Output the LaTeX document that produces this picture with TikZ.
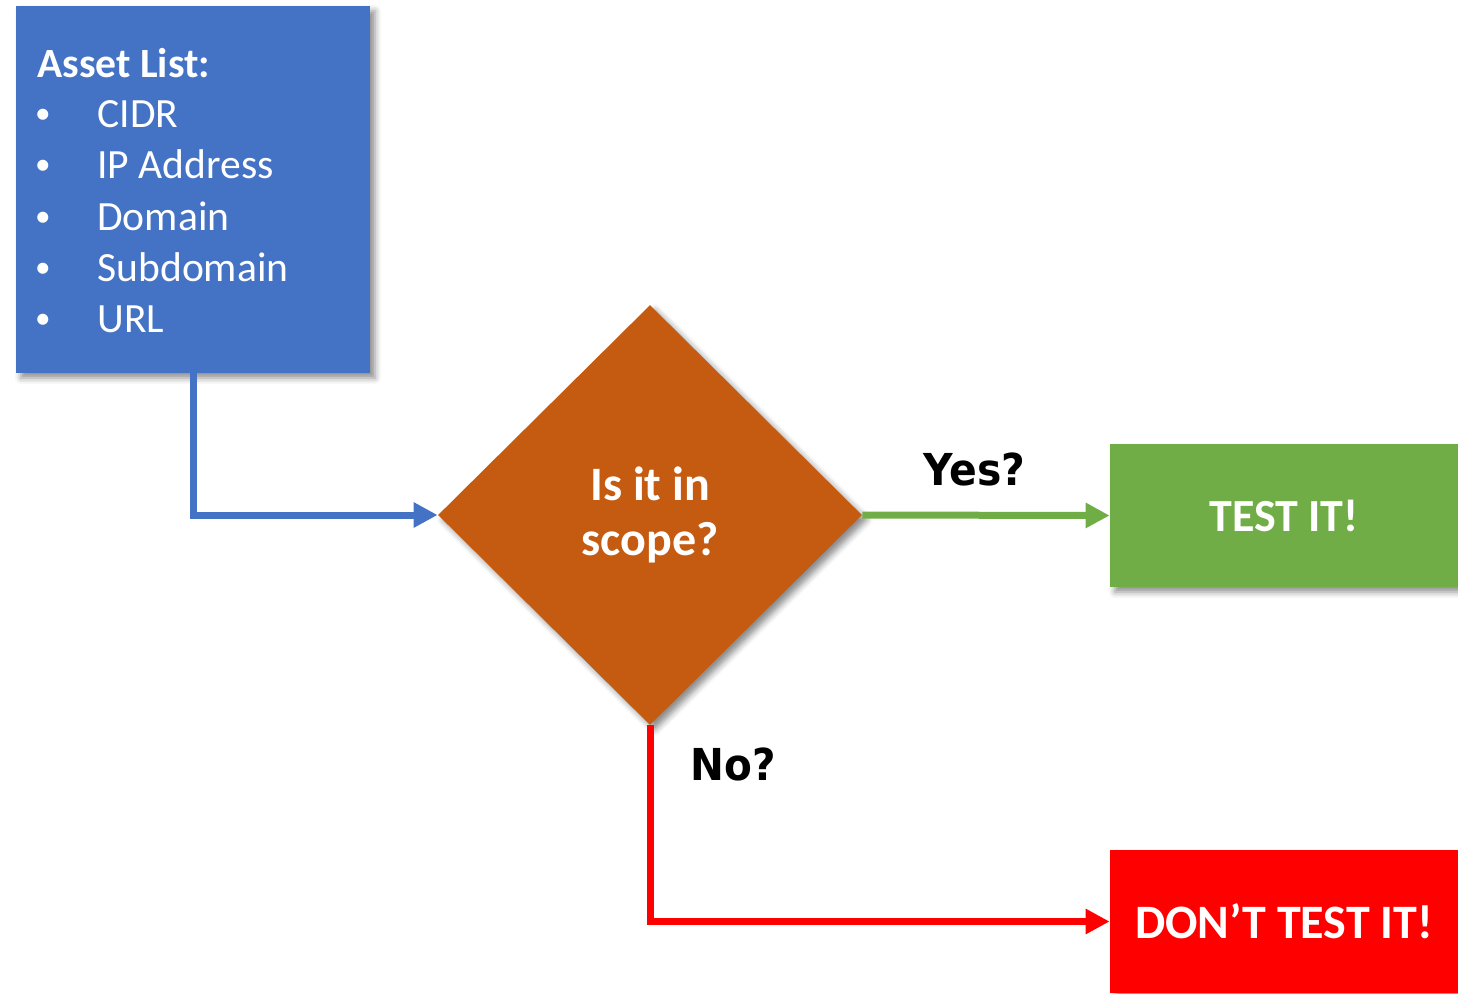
\documentclass[tikz,border=0pt]{standalone}
\usepackage{fontspec}
\setmainfont{Carlito}
\newfontfamily\labelfont{DejaVu Sans}
\usetikzlibrary{shapes.geometric,arrows.meta,shadows.blur}
\definecolor{boxblue}{HTML}{4472C4}
\definecolor{boxorange}{HTML}{C55A11}
\definecolor{boxgreen}{HTML}{70AD47}
\definecolor{boxred}{HTML}{FF0000}
\newcommand{\smallbullet}{\raisebox{1.7pt}{\scalebox{0.75}{•}}}
\begin{document}
\begin{tikzpicture}[x=0.5pt,y=-0.5pt,
  shade/.style={blur shadow={shadow xshift=2.5pt,shadow yshift=-2.5pt,shadow blur radius=3pt,shadow opacity=45}},
  panel/.style={rectangle,inner sep=0pt,text=white,shade},
  listtext/.style={anchor=base west,inner sep=0pt,text=white,font=\fontsize{20.8}{24}\selectfont},
  bullettext/.style={anchor=base,inner sep=0pt,text=white,font=\fontsize{20.8}{24}\selectfont},
  conn/.style={line width=3.5pt,-{Triangle[length=12pt,width=12pt]}},
  answer/.style={anchor=base west,inner sep=0pt,text=black,font=\labelfont\bfseries\fontsize{22}{26}\selectfont}]
\useasboundingbox (0,0) rectangle (1458,993);
% boxes
\node[panel,fill=boxblue,minimum width=177pt,minimum height=183.5pt] (asset) at (193,189.5) {};
\node[diamond,inner sep=0pt,fill=boxorange,shade,minimum width=212pt,minimum height=210pt,
      text=white,align=center,font=\bfseries\fontsize{24}{27.5}\selectfont] (dia) at (650,515) {\raisebox{-1.5pt}{Is it in}\\\raisebox{-1.5pt}{scope?}};
\node[panel,fill=boxgreen,minimum width=174pt,minimum height=71.5pt,font=\bfseries\fontsize{23}{27}\selectfont] (test) at (1284,515.5) {\raisebox{-0.5pt}{TEST IT!}};
\node[panel,fill=boxred,minimum width=174pt,minimum height=71.5pt,font=\bfseries\fontsize{24}{28}\selectfont] (dont) at (1284,921.5) {DON’T TEST IT!};
% list text
\node[listtext,font=\bfseries\fontsize{20.8}{24}\selectfont] (title) at (37,77) {Asset List:};
\node[bullettext] (b1) at (43,127) {\smallbullet};
\node[bullettext] (b2) at (43,178) {\smallbullet};
\node[bullettext] (b3) at (43,230) {\smallbullet};
\node[bullettext] (b4) at (43,281) {\smallbullet};
\node[bullettext] (b5) at (43,332) {\smallbullet};
\node[listtext] (i1) at (97,127) {CIDR};
\node[listtext] (i2) at (97,178) {IP Address};
\node[listtext] (i3) at (97,230) {Domain};
\node[listtext] (i4) at (97,281) {Subdomain};
\node[listtext] (i5) at (97,332) {URL};
% connectors
\draw[conn,boxblue] (asset.south) |- (dia.west);
\draw[conn,boxgreen] (dia.east) -- (test.west);
\draw[conn,boxred] (dia.south) |- (dont.west);
% labels
\node[answer] (yes) at (923,485) {\scalebox{0.93}[1]{Yes?}};
\node[answer] (no) at (690,780) {\scalebox{0.92}[1]{No?}};
\end{tikzpicture}
\end{document}
